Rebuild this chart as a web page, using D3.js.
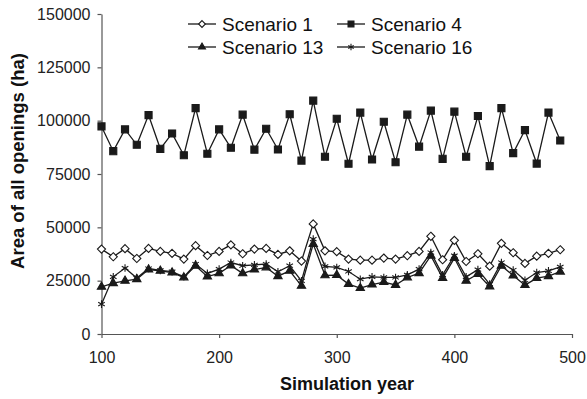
<!DOCTYPE html>
<html>
<head>
<meta charset="utf-8">
<script src="https://cdn.jsdelivr.net/npm/d3@7"></script>
<style>
  body { margin: 0; background: #fff; }
  text { font-family: "Liberation Sans", Arial, sans-serif; }
</style>
</head>
<body>
<div id="chart"></div>
<script>
// data
var years = [100,110,120,130,140,150,160,170,180,190,
             200,210,220,230,240,250,260,270,280,290,
             300,310,320,330,340,350,360,370,380,390,
             400,410,420,430,440,450,460,470,480,490]
var scenario1 = [39800,36200,40000,35400,40100,38700,37800,35100,41400,36800,
                 38700,41800,37600,39800,40100,37300,39000,34200,51600,39000,
                 38600,35100,34600,34600,35600,35100,36700,38700,45800,34800,
                 43900,34000,37600,31800,42500,38100,33100,36500,37800,39500]
var scenario4 = [97300,85700,95900,88700,102600,86800,94000,83800,105900,84500,
                 95900,87300,102800,86400,96200,86500,103000,81300,109400,83100,
                 100900,79800,103800,81800,99500,80500,102800,87800,104700,82100,
                 104200,83100,102200,78700,105900,84800,95600,79900,103800,90700]
var scenario13 = [22100,23800,24900,25700,30200,29600,28800,26500,32000,26900,
                  28400,32100,28400,30200,31200,27100,29600,22600,42200,27500,
                  27600,23400,21500,23200,24300,23000,26500,28500,36700,26200,
                  35600,24900,28100,22200,32000,27400,22900,26200,27100,29200]
var scenario16 = [14000,26800,30900,26200,30700,29800,29200,26800,32800,28400,
                  30400,33500,32000,32400,32800,29200,32000,24900,44500,31700,
                  31200,29300,25700,26800,26500,26500,27700,30400,38200,27700,
                  36700,26800,30200,23400,33500,30000,25200,28800,29600,31500]
var seriesNames = ["Scenario 1", "Scenario 4", "Scenario 13", "Scenario 16"]
var xTicks = [100, 200, 300, 400, 500]
var yTicks = [0, 25000, 50000, 75000, 100000, 125000, 150000]

var width = 587
    height = 399

var svg = d3.select("#chart")
  .append("svg")
    .attr("width", width)
    .attr("height", height)

var x = d3.scaleLinear().domain([100, 500]).range([101.5, 572])
var y = d3.scaleLinear().domain([0, 150000]).range([334, 14])

var ink = "#1a1a1a"
var axisColor = "#555"

// axes
svg.append("g")
  .attr("transform", "translate(0," + y(0) + ")")
  .call(d3.axisBottom(x).tickValues(xTicks).tickFormat(d3.format("d"))
    .tickSize(4).tickSizeOuter(0).tickPadding(14))
svg.append("g")
  .attr("transform", "translate(" + x(100) + ",0)")
  .call(d3.axisLeft(y).tickValues(yTicks).tickFormat(d3.format("d"))
    .tickSize(4).tickSizeOuter(0).tickPadding(7))

svg.selectAll(".domain, .tick line").attr("stroke", axisColor).attr("stroke-width", 1.2)
svg.selectAll(".tick text")
  .attr("fill", "#222")
  .style("font-size", "16px")
  .style("font-family", "'Liberation Sans', Arial, sans-serif")

// axis titles
svg.append("text")
  .attr("x", 347).attr("y", 390)
  .attr("text-anchor", "middle")
  .style("font-size", "18px").style("font-weight", "bold")
  .attr("fill", "#111")
  .text("Simulation year")
svg.append("text")
  .attr("transform", "translate(24,161) rotate(-90)")
  .attr("text-anchor", "middle")
  .style("font-size", "18.5px").style("font-weight", "bold")
  .attr("fill", "#111")
  .text("Area of all openings (ha)")

// series: marker styles
var series = [
  {name: seriesNames[0], values: scenario1, symbol: d3.symbolDiamond2, size: 42, fill: "#fff"},
  {name: seriesNames[1], values: scenario4, symbol: d3.symbolSquare, size: 50, fill: ink},
  {name: seriesNames[2], values: scenario13, symbol: d3.symbolTriangle, size: 30, fill: ink},
  {name: seriesNames[3], values: scenario16, symbol: d3.symbolAsterisk, size: 40, fill: "none"}
]

var line = d3.line()
  .x(function(d, i) { return x(years[i]) })
  .y(function(d) { return y(d) })

series.forEach(function(s) {
  svg.append("path")
    .datum(s.values)
    .attr("d", line)
    .attr("fill", "none")
    .attr("stroke", ink)
    .attr("stroke-width", 1.3)

  svg.selectAll(null)
    .data(s.values)
    .enter()
    .append("path")
    .attr("d", d3.symbol().type(s.symbol).size(s.size))
    .attr("transform", function(d, i) { return "translate(" + x(years[i]) + "," + y(d) + ")" })
    .attr("fill", s.fill)
    .attr("stroke", ink)
    .attr("stroke-width", 1.1)
})

// legend
var legendPos = [[188, 24], [337, 24], [188, 47], [337, 47]]
series.forEach(function(s, i) {
  var g = svg.append("g").attr("transform", "translate(" + legendPos[i][0] + "," + legendPos[i][1] + ")")
  g.append("line")
    .attr("x1", 0).attr("x2", 28)
    .attr("stroke", ink).attr("stroke-width", 1.3)
  g.append("path")
    .attr("d", d3.symbol().type(s.symbol).size(s.size * 0.7))
    .attr("transform", "translate(14,0)")
    .attr("fill", s.fill)
    .attr("stroke", ink)
    .attr("stroke-width", 1.1)
  g.append("text")
    .attr("x", 34).attr("y", 6.5)
    .style("font-size", "19px")
    .attr("fill", "#111")
    .text(s.name)
})
</script>
</body>
</html>
